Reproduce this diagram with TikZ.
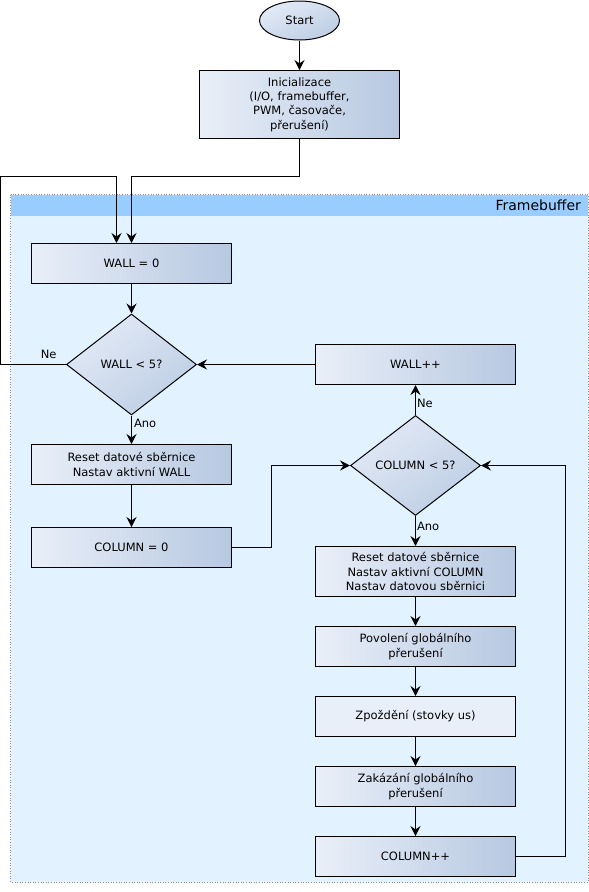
\documentclass[tikz,border=0pt]{standalone}
\usepackage{fontspec}
\setmainfont{DejaVu Sans}
\usetikzlibrary{shapes.geometric,arrows.meta,positioning,shadings}

\definecolor{boxlight}{HTML}{E9EFF8}
\definecolor{boxmid}{HTML}{D0DCEE}
\definecolor{boxdark}{HTML}{B7C8E1}
\definecolor{panelfill}{HTML}{E2F2FE}
\definecolor{panelhead}{HTML}{99CCFF}
\definecolor{framegray}{HTML}{8090A8}

\tikzset{
  boxbase/.style={draw, rectangle, line width=1pt, minimum width=200pt,
    minimum height=40pt, align=center, inner sep=2pt},
  box/.style={boxbase, left color=boxlight, right color=boxdark},
  flatbox/.style={boxbase, fill=boxlight},
  test/.style={draw, diamond, line width=1pt, inner sep=0pt,
    upper left=boxlight, upper right=boxmid, lower left=boxmid, lower right=boxdark,
    minimum width=130pt, minimum height=101pt},
  term/.style={draw, ellipse, line width=1pt,
    upper left=boxlight, upper right=boxmid, lower left=boxmid, lower right=boxdark,
    minimum width=80pt, minimum height=39pt},
  arr/.style={-{Stealth[length=10pt,width=10pt,inset=3.5pt]}, line width=1pt},
  lbl/.style={inner sep=1pt}
}

\begin{document}
\begin{tikzpicture}[x=1pt, y=-1pt]

  \fontsize{11.5}{14.4}\selectfont

  \newcommand\XA{131.5};
  \newcommand\XB{415.5};

  \useasboundingbox (0,0) rectangle (589,892);

  % Framebuffer panel
  \fill[panelfill] (10.5,194.5) rectangle (588,882);
  \fill[panelhead] (10.5,194.5) rectangle (588,216);
  \draw[dotted, draw=framegray, line width=0.6pt] (10.5,194.5) rectangle (588,882);
  \node[anchor=east, font=\fontsize{14}{16}\selectfont] (fbtitle) at (585,205.5) {Framebuffer};

  \node[term] (start) at (299.5,20.5) {Start};
  \node[box, minimum height=68pt] (init) at (299.5,104.5)
    {Inicializace\\(I/O, framebuffer,\\PWM, časovače,\\přerušení)};

  \node[box] (wall0) at (\XA,263.5) {WALL = 0};
  \node[test] (wallchk) at (\XA,364.5) {WALL < 5?};
  \node[box] (reset1) at (\XA,464.5) {Reset datové sběrnice\\Nastav aktivní WALL};
  \node[box] (col0) at (\XA,547.5) {COLUMN = 0};

  \node[box] (wallinc) at (\XB,364.5) {WALL++};
  \node[test, minimum height=100pt] (colchk) at (\XB,465.5) {COLUMN < 5?};
  \node[box, minimum height=50pt] (reset2) at (\XB,571.5)
    {Reset datové sběrnice\\Nastav aktivní COLUMN\\Nastav datovou sběrnici};
  \node[box] (povol) at (\XB,646.5) {Povolení globálního\\přerušení};
  \node[flatbox] (delay) at (\XB,716.5) {Zpoždění (stovky us)};
  \node[box] (zakaz) at (\XB,786.5) {Zakázání globálního\\přerušení};
  \node[box] (colinc) at (\XB,856.5) {COLUMN++};

  \coordinate (initjoin) at (\XA,176.5);
  \coordinate (loopcorner) at (0.5,176.5);
  \coordinate (loopjoin) at (116.5,176.5);

  \draw[arr] (start) -- (init);
  \draw[arr] (init.south) |- (initjoin) -- (wall0.north);
  \draw[arr] (wall0) -- (wallchk);

  \draw[arr] (wallchk.west) node[lbl, above left=4pt and 8pt]{Ne}
  -| (loopcorner) -- (loopjoin) -- (loopjoin |- wall0.north);

  \draw[arr] (wallchk.south) -- node[lbl, right, pos=0.28, xshift=1pt]{Ano} (reset1.north);
  \draw[arr] (reset1) -- (col0);
  \draw[arr] (col0.east) -- ++(39,0) |- (colchk.west);

  \draw[arr] (colchk.north) -- node[lbl, right, pos=0.4]{Ne} (wallinc.south);
  \draw[arr] (wallinc.west) -- (wallchk.east);
  \draw[arr] (colchk.south) -- node[lbl, right, pos=0.35]{Ano} (reset2.north);

  \draw[arr] (reset2) -- (povol);
  \draw[arr] (povol) -- (delay);
  \draw[arr] (delay) -- (zakaz);
  \draw[arr] (zakaz) -- (colinc);
  \draw[arr] (colinc.east) -- ++(49,0) |- (colchk.east);

\end{tikzpicture}
\end{document}
